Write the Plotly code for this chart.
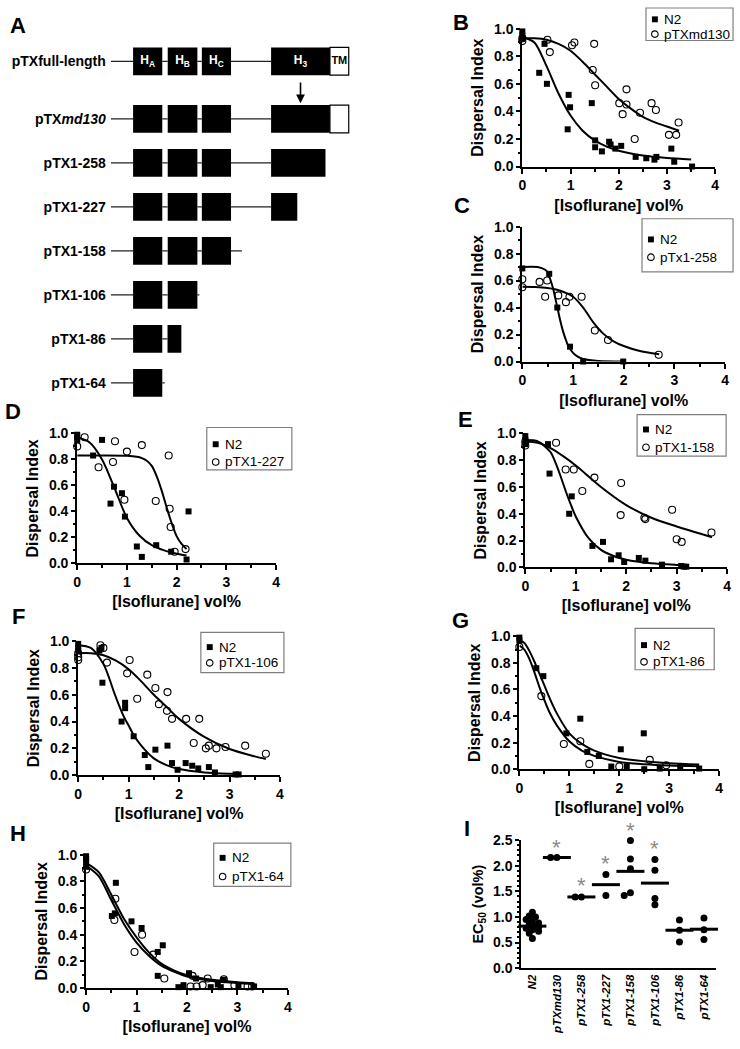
import plotly.graph_objects as go

W, H = 740, 1049
FONT = "Liberation Sans, Arial, sans-serif"

# ---------------- Panel A: construct diagram ----------------
diagram_rows = ["pTXfull-length", "pTXmd130", "pTX1-258", "pTX1-227",
                "pTX1-158", "pTX1-106", "pTX1-86", "pTX1-64"]
diagram_labels = ["<b>pTXfull-length</b>", "<b>pTX<i>md130</i></b>", "<b>pTX1-258</b>",
                  "<b>pTX1-227</b>", "<b>pTX1-158</b>", "<b>pTX1-106</b>",
                  "<b>pTX1-86</b>", "<b>pTX1-64</b>"]
row_y = [-0.31, 1, 2, 3, 4, 5, 6, 7]
backbone_start = 108
backbone_end = [348.5, 348.5, 325, 296.5, 240.5, 197.5, 165.3, 162.5]
helix_names = ["H<sub>A</sub>", "H<sub>B</sub>", "H<sub>C</sub>", "H<sub>3</sub>"]
helix_segments = [
    [(130.5, 160), (165.5, 195.5), (200, 229.5), (270, 329.5)],
    [(130.5, 160), (165.5, 195.5), (200, 229.5), (270, 329.5)],
    [(130.5, 160), (165.5, 195.5), (200, 229.5), (270, 325)],
    [(130.5, 160), (165.5, 195.5), (200, 229.5), (270, 296.5)],
    [(130.5, 160), (165.5, 195.5), (200, 229.5)],
    [(130.5, 160), (165.5, 195.5)],
    [(130.5, 160), (165.3, 179.3)],
    [(130.5, 160)],
]
tm_segments = [(329.5, 348.5), (329.5, 348.5), None, None, None, None, None, None]
bar_w = 0.63

# ---------------- Dispersal panels data ----------------
b_n2_x = [0, 0, 0, 0.35, 0.46, 0.51, 0.94, 0.96, 0.99, 1.44, 1.51, 1.51, 1.65, 1.80, 1.83, 1.93, 2.05, 2.35, 2.57, 2.74, 2.78, 3.09, 3.15, 3.52]
b_n2_y = [0.98, 0.95, 0.93, 0.68, 0.89, 0.60, 0.27, 0.52, 0.43, 0.46, 0.19, 0.14, 0.11, 0.18, 0.16, 0.13, 0.15, 0.07, 0.06, 0.05, 0.07, 0.13, 0.035, 0.0]
b_mut_x = [0, 0, 0.52, 0.57, 1.03, 1.08, 1.49, 1.46, 1.51, 2.01, 2.08, 2.16, 2.16, 2.33, 2.44, 2.68, 2.77, 3.04, 3.19, 3.24]
b_mut_y = [0.93, 0.91, 0.92, 0.83, 0.88, 0.90, 0.89, 0.70, 0.59, 0.46, 0.38, 0.56, 0.45, 0.20, 0.39, 0.46, 0.41, 0.23, 0.23, 0.32]
b_n2_fit_x = [0, 0.25, 0.5, 0.75, 1.0, 1.25, 1.5, 1.75, 2.0, 2.5, 3.0, 3.5]
b_n2_fit_y = [0.94, 0.90, 0.73, 0.53, 0.37, 0.26, 0.19, 0.145, 0.115, 0.08, 0.062, 0.052]
b_mut_fit_x = [0, 0.25, 0.5, 0.75, 1.0, 1.25, 1.5, 1.75, 2.0, 2.25, 2.5, 2.75, 3.0, 3.25]
b_mut_fit_y = [0.93, 0.93, 0.92, 0.89, 0.84, 0.76, 0.67, 0.58, 0.49, 0.42, 0.36, 0.32, 0.29, 0.26]

c_n2_x = [0, 0.53, 0.69, 0.94, 1.2, 1.99]
c_n2_y = [0.69, 0.65, 0.40, 0.11, 0.0, 0.0]
c_mut_x = [0, 0, 0.34, 0.49, 0.45, 0.71, 0.86, 0.93, 1.17, 1.43, 1.69, 2.69]
c_mut_y = [0.61, 0.55, 0.59, 0.60, 0.48, 0.49, 0.44, 0.48, 0.48, 0.23, 0.16, 0.05]
c_n2_fit_x = [0, 0.3, 0.45, 0.5, 0.55, 0.6, 0.65, 0.7, 0.75, 0.8, 0.85, 0.9, 1.0, 1.1, 1.2, 1.5, 2.0]
c_n2_fit_y = [0.70, 0.70, 0.68, 0.66, 0.61, 0.55, 0.47, 0.385, 0.30, 0.227, 0.17, 0.12, 0.064, 0.034, 0.019, 0.004, 0.0]
c_mut_fit_x = [0, 0.25, 0.5, 0.75, 1.0, 1.2, 1.4, 1.6, 1.8, 2.0, 2.3, 2.7]
c_mut_fit_y = [0.555, 0.553, 0.545, 0.525, 0.48, 0.40, 0.29, 0.205, 0.15, 0.115, 0.08, 0.054]

d_n2_x = [0, 0, 0, 0.32, 0.5, 0.67, 0.74, 0.9, 0.96, 1.2, 1.3, 1.59, 1.89, 2.2, 2.24]
d_n2_y = [0.99, 0.97, 0.95, 0.83, 0.95, 0.46, 0.59, 0.54, 0.36, 0.13, 0.05, 0.14, 0.09, 0.03, 0.40]
d_mut_x = [0, 0.15, 0.43, 0.72, 0.76, 1.0, 0.95, 1.3, 1.58, 1.84, 1.86, 1.88, 1.96, 2.18]
d_mut_y = [0.90, 0.97, 0.74, 0.78, 0.94, 0.86, 0.49, 0.91, 0.48, 0.83, 0.42, 0.28, 0.09, 0.11]
d_n2_fit_x = [0, 0.25, 0.5, 0.75, 1.0, 1.25, 1.5, 1.75, 2.0, 2.2]
d_n2_fit_y = [0.97, 0.93, 0.80, 0.58, 0.35, 0.215, 0.14, 0.10, 0.075, 0.06]
d_mut_fit_x = [0, 0.5, 1.0, 1.2, 1.3, 1.4, 1.5, 1.6, 1.7, 1.8, 1.9, 2.0, 2.1, 2.2]
d_mut_fit_y = [0.83, 0.83, 0.828, 0.82, 0.81, 0.79, 0.75, 0.67, 0.56, 0.43, 0.31, 0.21, 0.15, 0.11]

e_n2_x = [0, 0, 0, 0.45, 0.48, 0.87, 0.92, 1.33, 1.54, 1.70, 1.85, 1.96, 2.25, 2.38, 2.71, 3.09, 3.14, 3.19]
e_n2_y = [0.98, 0.95, 0.92, 0.92, 0.70, 0.40, 0.53, 0.16, 0.19, 0.06, 0.09, 0.04, 0.07, 0.05, 0.02, 0.01, 0.005, 0.005]
e_mut_x = [0, 0, 0.61, 0.80, 0.96, 1.13, 1.37, 1.90, 1.89, 2.36, 2.38, 2.91, 3.00, 3.10, 3.69]
e_mut_y = [0.94, 0.91, 0.93, 0.73, 0.73, 0.57, 0.67, 0.63, 0.39, 0.37, 0.36, 0.43, 0.21, 0.19, 0.26]
e_n2_fit_x = [0, 0.25, 0.5, 0.6, 0.7, 0.8, 0.9, 1.0, 1.25, 1.5, 1.75, 2.0, 2.5, 3.0, 3.2]
e_n2_fit_y = [0.95, 0.94, 0.86, 0.78, 0.68, 0.57, 0.47, 0.38, 0.22, 0.13, 0.085, 0.057, 0.03, 0.018, 0.015]
e_mut_fit_x = [0, 0.25, 0.5, 0.75, 1.0, 1.5, 2.0, 2.5, 3.0, 3.7]
e_mut_fit_y = [0.94, 0.93, 0.89, 0.83, 0.76, 0.60, 0.465, 0.37, 0.305, 0.225]

f_n2_x = [0, 0, 0, 0.42, 0.46, 0.48, 0.86, 0.93, 0.93, 1.10, 1.32, 1.39, 1.53, 1.77, 1.86, 1.97, 2.13, 2.26, 2.38, 2.59, 2.71, 3.12, 3.18]
f_n2_y = [0.98, 0.95, 0.93, 0.93, 0.95, 0.69, 0.40, 0.54, 0.50, 0.29, 0.15, 0.06, 0.19, 0.22, 0.09, 0.04, 0.09, 0.07, 0.05, 0.06, 0.02, 0.005, 0.005]
f_mut_x = [0, 0, 0, 0.44, 0.50, 0.57, 0.97, 1.02, 1.17, 1.37, 1.53, 1.60, 1.77, 1.76, 1.86, 2.14, 2.40, 2.29, 2.53, 2.59, 2.74, 2.92, 3.31, 3.72]
f_mut_y = [0.91, 0.88, 0.86, 0.97, 0.95, 0.84, 0.76, 0.86, 0.57, 0.75, 0.65, 0.53, 0.62, 0.48, 0.42, 0.42, 0.42, 0.24, 0.20, 0.22, 0.20, 0.21, 0.22, 0.16]
f_n2_fit_x = [0, 0.25, 0.5, 0.6, 0.7, 0.8, 0.9, 1.0, 1.1, 1.25, 1.5, 1.75, 2.0, 2.5, 3.0, 3.2]
f_n2_fit_y = [0.97, 0.95, 0.83, 0.74, 0.63, 0.53, 0.44, 0.37, 0.30, 0.22, 0.125, 0.075, 0.045, 0.02, 0.01, 0.008]
f_mut_fit_x = [0, 0.25, 0.5, 0.75, 1.0, 1.25, 1.5, 1.75, 2.0, 2.5, 3.0, 3.5, 3.72]
f_mut_fit_y = [0.91, 0.91, 0.895, 0.855, 0.79, 0.70, 0.60, 0.51, 0.42, 0.285, 0.195, 0.14, 0.12]

g_n2_x = [0, 0, 0.34, 0.48, 0.94, 1.22, 1.36, 1.59, 1.84, 2.03, 2.15, 2.49, 2.50, 2.81, 3.22, 3.60]
g_n2_y = [0.99, 0.97, 0.76, 0.70, 0.27, 0.38, 0.13, 0.10, 0.02, 0.15, 0.02, 0.27, 0.0, 0.005, 0.02, 0.005]
g_mut_x = [0, 0.44, 0.89, 1.22, 1.40, 2.00, 2.61, 2.94]
g_mut_y = [0.92, 0.55, 0.19, 0.21, 0.04, 0.02, 0.07, 0.03]
g_fit_x = [0, 0.1, 0.2, 0.3, 0.4, 0.5, 0.6, 0.75, 1.0, 1.25, 1.5, 2.0, 2.5, 3.0, 3.6]
g_n2_fit_y = [0.97, 0.95, 0.89, 0.81, 0.72, 0.63, 0.54, 0.42, 0.27, 0.19, 0.14, 0.085, 0.06, 0.045, 0.035]
g_mut_fit_y = [0.93, 0.90, 0.83, 0.73, 0.62, 0.52, 0.43, 0.33, 0.21, 0.14, 0.10, 0.055, 0.038, 0.028, 0.022]

h_n2_x = [0, 0, 0, 0, 0.59, 0.51, 0.57, 0.90, 1.10, 1.42, 1.52, 1.42, 1.83, 1.93, 2.04, 2.18, 2.47, 2.61, 2.67, 2.73, 3.02, 3.33]
h_n2_y = [0.99, 0.97, 0.95, 0.91, 0.79, 0.54, 0.56, 0.50, 0.45, 0.27, 0.32, 0.09, 0.005, 0.02, 0.11, 0.07, 0.005, 0.025, 0.005, 0.06, 0.01, 0.01]
h_mut_x = [0, 0.58, 0.56, 0.96, 1.11, 1.33, 1.55, 2.11, 2.07, 2.19, 2.31, 2.41, 2.73, 2.94, 3.20, 3.29]
h_mut_y = [0.89, 0.67, 0.51, 0.27, 0.40, 0.25, 0.07, 0.09, 0.01, 0.01, 0.02, 0.07, 0.065, 0.02, 0.01, 0.01]
h_fit_x = [0, 0.25, 0.5, 0.75, 1.0, 1.25, 1.5, 1.75, 2.0, 2.5, 3.0, 3.33]
h_n2_fit_y = [0.94, 0.87, 0.70, 0.52, 0.38, 0.265, 0.18, 0.13, 0.095, 0.06, 0.042, 0.035]
h_mut_fit_y = [0.92, 0.84, 0.66, 0.48, 0.34, 0.24, 0.165, 0.12, 0.085, 0.052, 0.037, 0.03]

# ---------------- Panel I data ----------------
i_groups = ["N2", "pTXmd130", "pTX1-258", "pTX1-227", "pTX1-158", "pTX1-106", "pTX1-86", "pTX1-64"]
i_values = [
    [1.09, 1.02, 1.00, 0.95, 0.92, 0.88, 0.85, 0.82, 0.80, 0.78, 0.75, 0.72, 0.68, 0.58],
    [2.16, 2.16],
    [1.39, 1.39],
    [1.83, 1.42],
    [2.49, 2.13, 1.94, 1.47, 1.42],
    [2.12, 1.91, 1.36, 1.24],
    [0.94, 0.74, 0.51],
    [0.98, 0.75, 0.56],
]
i_means = [0.82, 2.16, 1.39, 1.63, 1.89, 1.66, 0.74, 0.76]
i_star_groups = ["pTXmd130", "pTX1-258", "pTX1-227", "pTX1-158", "pTX1-106"]
i_star_y = [2.48, 1.73, 2.16, 2.81, 2.46]

# ---------------- helpers ----------------
def xd(a, b):
    return [a / W, b / W]

def yd(top, bottom):
    return [1 - bottom / H, 1 - top / H]

fig = go.Figure()
layout = dict(
    width=W, height=H, margin=dict(l=0, r=0, t=0, b=0),
    paper_bgcolor="white", plot_bgcolor="white", showlegend=False,
    font=dict(family=FONT, color="black"), barmode="overlay",
)
annotations = []
shapes = []

# ---------- Panel A ----------
for r, (segs, end) in enumerate(zip(helix_segments, backbone_end)):
    allsegs = sorted(segs + ([tm_segments[r]] if tm_segments[r] else []))
    cur = backbone_start
    lx, ly = [], []
    for s, e in allsegs:
        if s > cur:
            lx += [cur, s, None]
            ly += [row_y[r], row_y[r], None]
        cur = max(cur, e)
    if end > cur:
        lx += [cur, end, None]
        ly += [row_y[r], row_y[r], None]
    fig.add_trace(go.Scatter(x=lx, y=ly, mode="lines", line=dict(color="#222", width=1.3),
                             xaxis="x", yaxis="y", hoverinfo="skip"))

blk_y, blk_base, blk_len = [], [], []
for r, segs in enumerate(helix_segments):
    for s, e in segs:
        blk_y.append(row_y[r]); blk_base.append(s); blk_len.append(e - s)
fig.add_trace(go.Bar(orientation="h", y=blk_y, x=blk_len, base=blk_base, width=bar_w,
                     marker=dict(color="black", line=dict(width=0)), xaxis="x", yaxis="y"))
tm_y = [row_y[r] for r, t in enumerate(tm_segments) if t]
tm_b = [t[0] for t in tm_segments if t]
tm_l = [t[1] - t[0] for t in tm_segments if t]
fig.add_trace(go.Bar(orientation="h", y=tm_y, x=tm_l, base=tm_b, width=bar_w,
                     marker=dict(color="white", line=dict(color="black", width=1.2)),
                     xaxis="x", yaxis="y"))
hx = [(s + e) / 2 for s, e in helix_segments[0]]
fig.add_trace(go.Scatter(x=hx, y=[row_y[0]] * len(hx), mode="text", text=helix_names,
                         textfont=dict(color="white", size=12, family=FONT, weight=700),
                         xaxis="x", yaxis="y", cliponaxis=False))
fig.add_trace(go.Scatter(x=[(tm_segments[0][0] + tm_segments[0][1]) / 2], y=[row_y[0]],
                         mode="text", text=["TM"],
                         textfont=dict(color="black", size=11, family=FONT, weight=700),
                         xaxis="x", yaxis="y", cliponaxis=False))
h3c = (helix_segments[0][3][0] + helix_segments[0][3][1]) / 2
annotations.append(dict(x=h3c, y=row_y[1] - bar_w / 2 - 0.04, ax=h3c, ay=row_y[0] + bar_w / 2 + 0.13,
                        xref="x", yref="y", axref="x", ayref="y", text="", showarrow=True,
                        arrowhead=2, arrowsize=1.1, arrowwidth=1.6, arrowcolor="black"))
layout["xaxis"] = dict(domain=xd(108, 360), range=[108, 360], visible=False, anchor="y")
layout["yaxis"] = dict(domain=yd(30, 400), range=[7.43, -0.85], anchor="x",
                       tickvals=row_y, ticktext=diagram_labels, showgrid=False, zeroline=False,
                       showline=False, ticks="", ticklabelstandoff=4,
                       tickfont=dict(size=14, family=FONT, color="black"))

# ---------- Dispersal panels ----------
panels = [
    ("B", 2, (524, 719), (21, 161), (462, 15), (649, 0, 737, 33), (11.5, 26.5), ("N2", "pTXmd130"),
     (b_n2_x, b_n2_y, b_mut_x, b_mut_y, b_n2_fit_x, b_n2_fit_y, b_mut_fit_x, b_mut_fit_y)),
    ("C", 3, (524, 729), (222, 359), (463, 201), (645, 214, 737, 268), (235, 253), ("N2", "pTx1-258"),
     (c_n2_x, c_n2_y, c_mut_x, c_mut_y, c_n2_fit_x, c_n2_fit_y, c_mut_fit_x, c_mut_fit_y)),
    ("D", 4, (74, 275), (432, 564), (9, 410), (205, 426, 291, 469), (443, 461), ("N2", "pTX1-227"),
     (d_n2_x, d_n2_y, d_mut_x, d_mut_y, d_n2_fit_x, d_n2_fit_y, d_mut_fit_x, d_mut_fit_y)),
    ("E", 5, (527, 731), (432, 568), (467, 418), (640, 413, 730, 455), (428, 446), ("N2", "pTX1-158"),
     (e_n2_x, e_n2_y, e_mut_x, e_mut_y, e_n2_fit_x, e_n2_fit_y, e_mut_fit_x, e_mut_fit_y)),
    ("F", 6, (75, 279), (643, 779), (15, 618), (199, 634, 283, 675), (649, 665), ("N2", "pTX1-106"),
     (f_n2_x, f_n2_y, f_mut_x, f_mut_y, f_n2_fit_x, f_n2_fit_y, f_mut_fit_x, f_mut_fit_y)),
    ("G", 7, (521, 723), (638, 773), (461, 622), (638, 630, 718, 672), (647, 664), ("N2", "pTX1-86"),
     (g_n2_x, g_n2_y, g_mut_x, g_mut_y, g_fit_x, g_n2_fit_y, g_fit_x, g_mut_fit_y)),
    ("H", 8, (83, 287), (860, 995), (14, 838), (212, 848, 290, 892), (863, 882), ("N2", "pTX1-64"),
     (h_n2_x, h_n2_y, h_mut_x, h_mut_y, h_fit_x, h_n2_fit_y, h_fit_x, h_mut_fit_y)),
]

tickfont = dict(size=14, family=FONT, weight=700, color="black")
titlefont = dict(size=16, family=FONT, weight=700, color="black")

for letter, k, xp, yp, lp, box, rows, labels, data in panels:
    xa, ya = f"x{k}", f"y{k}"
    n2x, n2y, mx, my, fnx, fny, fmx, fmy = data
    fig.add_trace(go.Scatter(x=fnx, y=fny, mode="lines", line=dict(color="black", width=2, shape="spline", smoothing=0.8),
                             xaxis=xa, yaxis=ya, cliponaxis=False))
    fig.add_trace(go.Scatter(x=fmx, y=fmy, mode="lines", line=dict(color="black", width=2, shape="spline", smoothing=0.8),
                             xaxis=xa, yaxis=ya, cliponaxis=False))
    fig.add_trace(go.Scatter(x=n2x, y=n2y, mode="markers",
                             marker=dict(symbol="square", size=6, color="black"),
                             xaxis=xa, yaxis=ya, cliponaxis=False))
    fig.add_trace(go.Scatter(x=mx, y=my, mode="markers",
                             marker=dict(symbol="circle-open", size=7, color="black", line=dict(width=1.1)),
                             xaxis=xa, yaxis=ya, cliponaxis=False))
    layout[f"xaxis{k}"] = dict(domain=xd(*xp), range=[0, 4], anchor=ya, showline=True, linecolor="black",
                               linewidth=2, ticks="outside", ticklen=5, tickwidth=2, tickcolor="black",
                               tickvals=[0, 1, 2, 3, 4], tickfont=tickfont, showgrid=False, zeroline=False,
                               minor=dict(tickvals=[0.5, 1.5, 2.5, 3.5], ticks="outside", ticklen=3,
                                          tickwidth=1.5, tickcolor="black"),
                               title=dict(text="[Isoflurane] vol%", font=titlefont, standoff=7))
    layout[f"yaxis{k}"] = dict(domain=yd(*yp), range=[0, 1], anchor=xa, showline=True, linecolor="black",
                               linewidth=2, ticks="outside", ticklen=4, tickwidth=2, tickcolor="black",
                               tickvals=[0, 0.2, 0.4, 0.6, 0.8, 1.0], tickformat=".1f", tickfont=tickfont,
                               showgrid=False, zeroline=False,
                               minor=dict(tickvals=[0.1, 0.3, 0.5, 0.7, 0.9], ticks="outside", ticklen=2.5,
                                          tickwidth=1.5, tickcolor="black"),
                               title=dict(text="Dispersal Index", font=titlefont, standoff=6))
    annotations.append(dict(x=lp[0] / W, y=1 - lp[1] / H, xref="paper", yref="paper", text=f"<b>{letter}</b>",
                            showarrow=False, font=dict(size=22, family=FONT), xanchor="center", yanchor="middle"))
    x0, y0, x1, y1 = box
    shapes.append(dict(type="rect", xref="paper", yref="paper", x0=x0 / W, x1=x1 / W,
                       y0=1 - y1 / H, y1=1 - y0 / H, line=dict(color="#7f7f7f", width=1.2),
                       fillcolor="white", layer="above"))
    sx = x0 + 9
    shapes.append(dict(type="rect", xref="paper", yref="paper", x0=(sx - 3) / W, x1=(sx + 3) / W,
                       y0=1 - (rows[0] + 3) / H, y1=1 - (rows[0] - 3) / H, line=dict(width=0),
                       fillcolor="black", layer="above"))
    shapes.append(dict(type="circle", xref="paper", yref="paper", x0=(sx - 3.3) / W, x1=(sx + 3.3) / W,
                       y0=1 - (rows[1] + 3.3) / H, y1=1 - (rows[1] - 3.3) / H,
                       line=dict(width=1.1, color="black"), fillcolor="white", layer="above"))
    for ry, lab in zip(rows, labels):
        annotations.append(dict(x=(x0 + 16) / W, y=1 - ry / H, xref="paper", yref="paper", text=lab,
                                showarrow=False, xanchor="left", yanchor="middle",
                                font=dict(size=13.5, family=FONT, color="black")))

annotations.append(dict(x=14 / W, y=1 - 18 / H, xref="paper", yref="paper", text="<b>A</b>",
                        showarrow=False, font=dict(size=22, family=FONT), xanchor="center", yanchor="middle"))

# ---------- Panel I ----------
I_X, I_Y = (523, 720), (845, 975)
I_XR, I_YR = (-0.45, 7.5), (0, 2.5)
px_x = (I_X[1] - I_X[0]) / (I_XR[1] - I_XR[0])   # px per category
px_y = (I_Y[1] - I_Y[0]) / (I_YR[1] - I_YR[0])   # px per unit
DOT = 7.0

def swarm_offsets(vals):
    """Compact beeswarm: nearest free horizontal slot, dots may overlap a little."""
    placed, offs = [], []
    step = DOT * 0.45
    cands = [0]
    for j in range(1, 3):
        cands += [-j * step, j * step]
    for v in vals:
        yp = v * px_y
        best = cands[-1]
        for c in cands:
            if all((c - px) ** 2 + (yp - py) ** 2 >= (DOT * 0.6) ** 2 for px, py in placed):
                best = c
                break
        placed.append((best, yp))
        offs.append(best / px_x)
    return offs

def y9_paper(v):
    """Map an EC50 value onto the page (paper) coordinate of panel I's y axis."""
    d0, d1 = yd(*I_Y)
    return d0 + (v - I_YR[0]) / (I_YR[1] - I_YR[0]) * (d1 - d0)

pts_x, pts_y = [], []
for gi, vals in enumerate(i_values):
    for o, v in zip(swarm_offsets(vals), vals):
        pts_x.append(gi + o)
        pts_y.append(v)
group_idx = list(range(len(i_groups)))
fig.add_trace(go.Scatter(x=pts_x, y=pts_y, mode="markers", marker=dict(color="black", size=DOT),
                         xaxis="x9", yaxis="y9", cliponaxis=False))
fig.add_trace(go.Scatter(x=group_idx, y=i_means, mode="markers",
                         marker=dict(symbol="line-ew", size=20, line=dict(width=3, color="black")),
                         xaxis="x9", yaxis="y9", cliponaxis=False))
for g, sy in zip(i_star_groups, i_star_y):
    annotations.append(dict(x=i_groups.index(g), y=y9_paper(sy), xref="x9", yref="paper", text="*",
                            showarrow=False, xanchor="center", yanchor="middle", yshift=-6,
                            font=dict(size=22, color="#8a8a8a", family=FONT)))
layout["xaxis9"] = dict(domain=xd(*I_X), range=list(I_XR), anchor="y9", showline=True, linecolor="black",
                        linewidth=2, ticks="", tickangle=-90, showgrid=False, zeroline=False,
                        tickvals=group_idx, ticktext=i_groups,
                        tickfont=dict(size=11.5, family=FONT, weight=700, style="italic", color="black"))
layout["yaxis9"] = dict(domain=yd(*I_Y), range=list(I_YR), anchor="x9", showline=True, linecolor="black",
                        linewidth=2, ticks="outside", ticklen=4, tickwidth=2, tickcolor="black",
                        tickvals=[0, 0.5, 1.0, 1.5, 2.0, 2.5], tickformat=".1f", tickfont=tickfont,
                        showgrid=False, zeroline=False,
                        minor=dict(dtick=0.1, ticks="outside", ticklen=2, tickwidth=1.5, tickcolor="black"),
                        title=dict(text="EC<sub>50</sub> (vol%)", font=dict(size=14.5, family=FONT, weight=700),
                                   standoff=6))
annotations.append(dict(x=468 / W, y=1 - 833 / H, xref="paper", yref="paper", text="<b>I</b>",
                        showarrow=False, font=dict(size=22, family=FONT), xanchor="center", yanchor="middle"))

layout["annotations"] = annotations
layout["shapes"] = shapes
fig.update_layout(**layout)
fig.write_html("out.html", config={"displayModeBar": False},
               post_script="document.body.style.margin='0';document.body.style.overflow='hidden';")
